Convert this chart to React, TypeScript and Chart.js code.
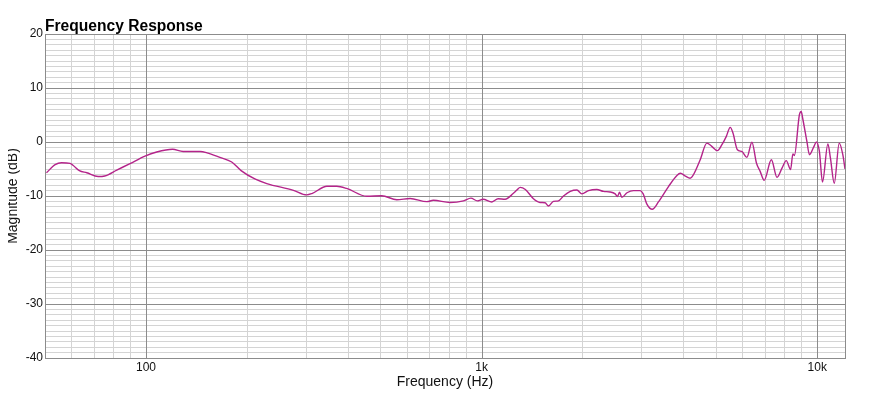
import React, { useEffect, useRef } from "react";
import { Chart, registerables } from "chart.js";

Chart.register(...registerables);

const freqs = [
  50.5, 53.6, 56, 59.4, 60.7, 63.3, 66.6, 72, 75.3, 81.8, 89.6, 99.3, 107.6, 120, 129, 145, 152, 166, 180, 192,
  211, 229, 275, 301, 312, 346, 370, 396, 455, 504, 559, 612, 687, 718, 805, 883, 929, 971, 1010, 1073,
  1120, 1175, 1244, 1274, 1303, 1350, 1427, 1493, 1545, 1582, 1637, 1694, 1754, 1837, 1923, 1989, 2082, 2204, 2307, 2415,
  2500, 2540, 2575, 2617, 2712, 2835, 2968, 3030, 3108, 3225, 3364, 3600, 3819, 3912, 4047, 4182, 4278, 4480, 4690, 4850,
  5043, 5200, 5356, 5505, 5610, 5783, 5960, 6170, 6390, 6590, 6761, 6950, 7300, 7590, 7860, 8085, 8330, 8463, 8550, 8850,
  8960, 9050, 9316, 9480, 9750, 9940, 10150, 10370, 10760, 10950, 11240, 11630, 11920, 12100,
];

const magnitudes = [
  -5.7, -4.2, -3.85, -3.95, -4.35, -5.3, -5.7, -6.4, -6.3, -5.2, -4.0, -2.6, -1.85, -1.35, -1.75, -1.75, -2.0, -2.85, -3.7, -5.3,
  -6.85, -7.7, -8.95, -9.8, -9.55, -8.2, -8.2, -8.6, -10.05, -9.95, -10.7, -10.45, -11.05, -10.8, -11.2, -10.9, -10.4, -10.9, -10.6, -11.1,
  -10.5, -10.6, -9.5, -8.9, -8.4, -8.8, -10.5, -11.2, -11.25, -11.85, -11.0, -10.9, -10.0, -9.15, -8.9, -9.6, -9.0, -8.8, -9.15, -9.25,
  -9.6, -10.1, -9.3, -10.25, -9.4, -9.0, -9.0, -9.6, -11.5, -12.45, -11.1, -8.3, -6.2, -5.8, -6.3, -6.7, -6.05, -3.3, -0.2, -0.8,
  -1.6, -0.5, 1.0, 2.7, 1.65, -1.45, -1.75, -2.85, -0.05, -3.9, -5.44, -7.1, -3.3, -6.55, -4.8, -3.45, -5.1, -2.2, -2.5, 5.05,
  5.65, 4.4, 0.1, -2.35, -1.0, 0, -1.75, -7.4, -0.35, -3.0, -7.65, -0.2, -2.35, -5.0,
];

const xGridValues = [
  60, 70, 80, 90, 100, 200, 300, 400, 500, 600, 700, 800, 900, 1000,
  2000, 3000, 4000, 5000, 6000, 7000, 8000, 9000, 10000,
];
const xMajorValues = [100, 1000, 10000];
const xTickLabels: Record<number, string> = { 100: "100", 1000: "1k", 10000: "10k" };
const yMajorValues = [-40, -30, -20, -10, 0, 10, 20];

const X_MIN = 50;
const X_MAX = 12100;
const Y_MIN = -40;
const Y_MAX = 20;

const TITLE = "Frequency Response";
const X_TITLE = "Frequency (Hz)";
const Y_TITLE = "Magnitude (dB)";

const FONT = "'Liberation Sans', Arial, Helvetica, sans-serif";
const MAJOR = "#8c8c8c";
const MINOR = "#d4d4d4";
const LINE_COLOR = "#b4248a";

export default function App() {
  const ref = useRef<HTMLCanvasElement | null>(null);

  useEffect(() => {
    if (!ref.current) return;
    const frame = {
      id: "frame",
      beforeDatasetsDraw(chart: any) {
        const { ctx, chartArea: a, scales } = chart;
        const px = (v: number) => Math.round(v) + 0.5;
        ctx.save();
        ctx.strokeStyle = MAJOR;
        ctx.lineWidth = 1;
        ctx.beginPath();
        for (const v of xMajorValues) {
          const x = px(scales.x.getPixelForValue(v));
          ctx.moveTo(x, a.top);
          ctx.lineTo(x, a.bottom);
        }
        for (const v of yMajorValues) {
          const y = px(scales.y.getPixelForValue(v));
          ctx.moveTo(a.left, y);
          ctx.lineTo(a.right, y);
        }
        ctx.stroke();
        ctx.strokeRect(px(a.left), px(a.top), Math.round(a.right - a.left), Math.round(a.bottom - a.top));
        ctx.restore();
      },
      afterDraw(chart: any) {
        const { ctx, chartArea: a } = chart;
        ctx.save();
        ctx.fillStyle = "#000";
        ctx.font = `bold 15.6px ${FONT}`;
        ctx.textAlign = "left";
        ctx.textBaseline = "alphabetic";
        ctx.fillText(TITLE, a.left, 30.7);
        ctx.restore();
      },
    };

    const chart = new Chart(ref.current, {
      type: "line",
      data: {
        datasets: [
          {
            data: freqs.map((f, i) => ({ x: f, y: magnitudes[i] })),
            borderColor: LINE_COLOR,
            borderWidth: 1.4,
            pointRadius: 0,
            cubicInterpolationMode: "monotone",
            fill: false,
          },
        ],
      },
      options: {
        responsive: false,
        animation: false,
        devicePixelRatio: 1,
        layout: { padding: { left: 0, right: 31, top: 34, bottom: 0 } },
        plugins: { legend: { display: false }, tooltip: { enabled: false }, title: { display: false } },
        scales: {
          x: {
            type: "logarithmic",
            min: X_MIN,
            max: X_MAX,
            afterBuildTicks: (scale: any) => {
              scale.ticks = xGridValues.map((v) => ({ value: v }));
            },
            afterFit: (scale: any) => {
              scale.height = 40;
              scale.paddingLeft = 0;
              scale.paddingRight = 0;
            },
            border: { display: false },
            grid: {
              drawTicks: false,
              color: (ctx: any) => (ctx.tick && xMajorValues.includes(ctx.tick.value) ? "rgba(0,0,0,0)" : MINOR),
              lineWidth: 1,
            },
            ticks: {
              autoSkip: false,
              maxRotation: 0,
              minRotation: 0,
              padding: 2,
              color: "#111",
              font: { family: FONT, size: 12 },
              callback: (v: any) => xTickLabels[Number(v)] ?? "",
            },
            title: {
              display: true,
              text: X_TITLE,
              color: "#111",
              font: { family: FONT, size: 14 },
              padding: { top: 0, bottom: 7 },
            },
          },
          y: {
            type: "linear",
            min: Y_MIN,
            max: Y_MAX,
            afterFit: (scale: any) => {
              scale.width = 45;
            },
            border: { display: false },
            grid: {
              drawTicks: false,
              color: (ctx: any) => (ctx.tick && ctx.tick.value % 10 === 0 ? "rgba(0,0,0,0)" : MINOR),
              lineWidth: 1,
            },
            ticks: {
              stepSize: 1,
              maxTicksLimit: 100,
              autoSkip: false,
              padding: 2,
              color: "#111",
              font: { family: FONT, size: 12 },
              callback: (v: any) => (Number(v) % 10 === 0 ? String(v) : ""),
            },
            title: {
              display: true,
              text: Y_TITLE,
              color: "#111",
              font: { family: FONT, size: 14 },
              padding: { top: 4.4, bottom: 0 },
            },
          },
        },
      },
      plugins: [frame],
    } as any);

    return () => chart.destroy();
  }, []);

  return (
    <canvas
      ref={ref}
      width={876}
      height={398}
      style={{ display: "block", width: 876, height: 398, margin: "-8px 0 0 -8px" }}
    />
  );
}
